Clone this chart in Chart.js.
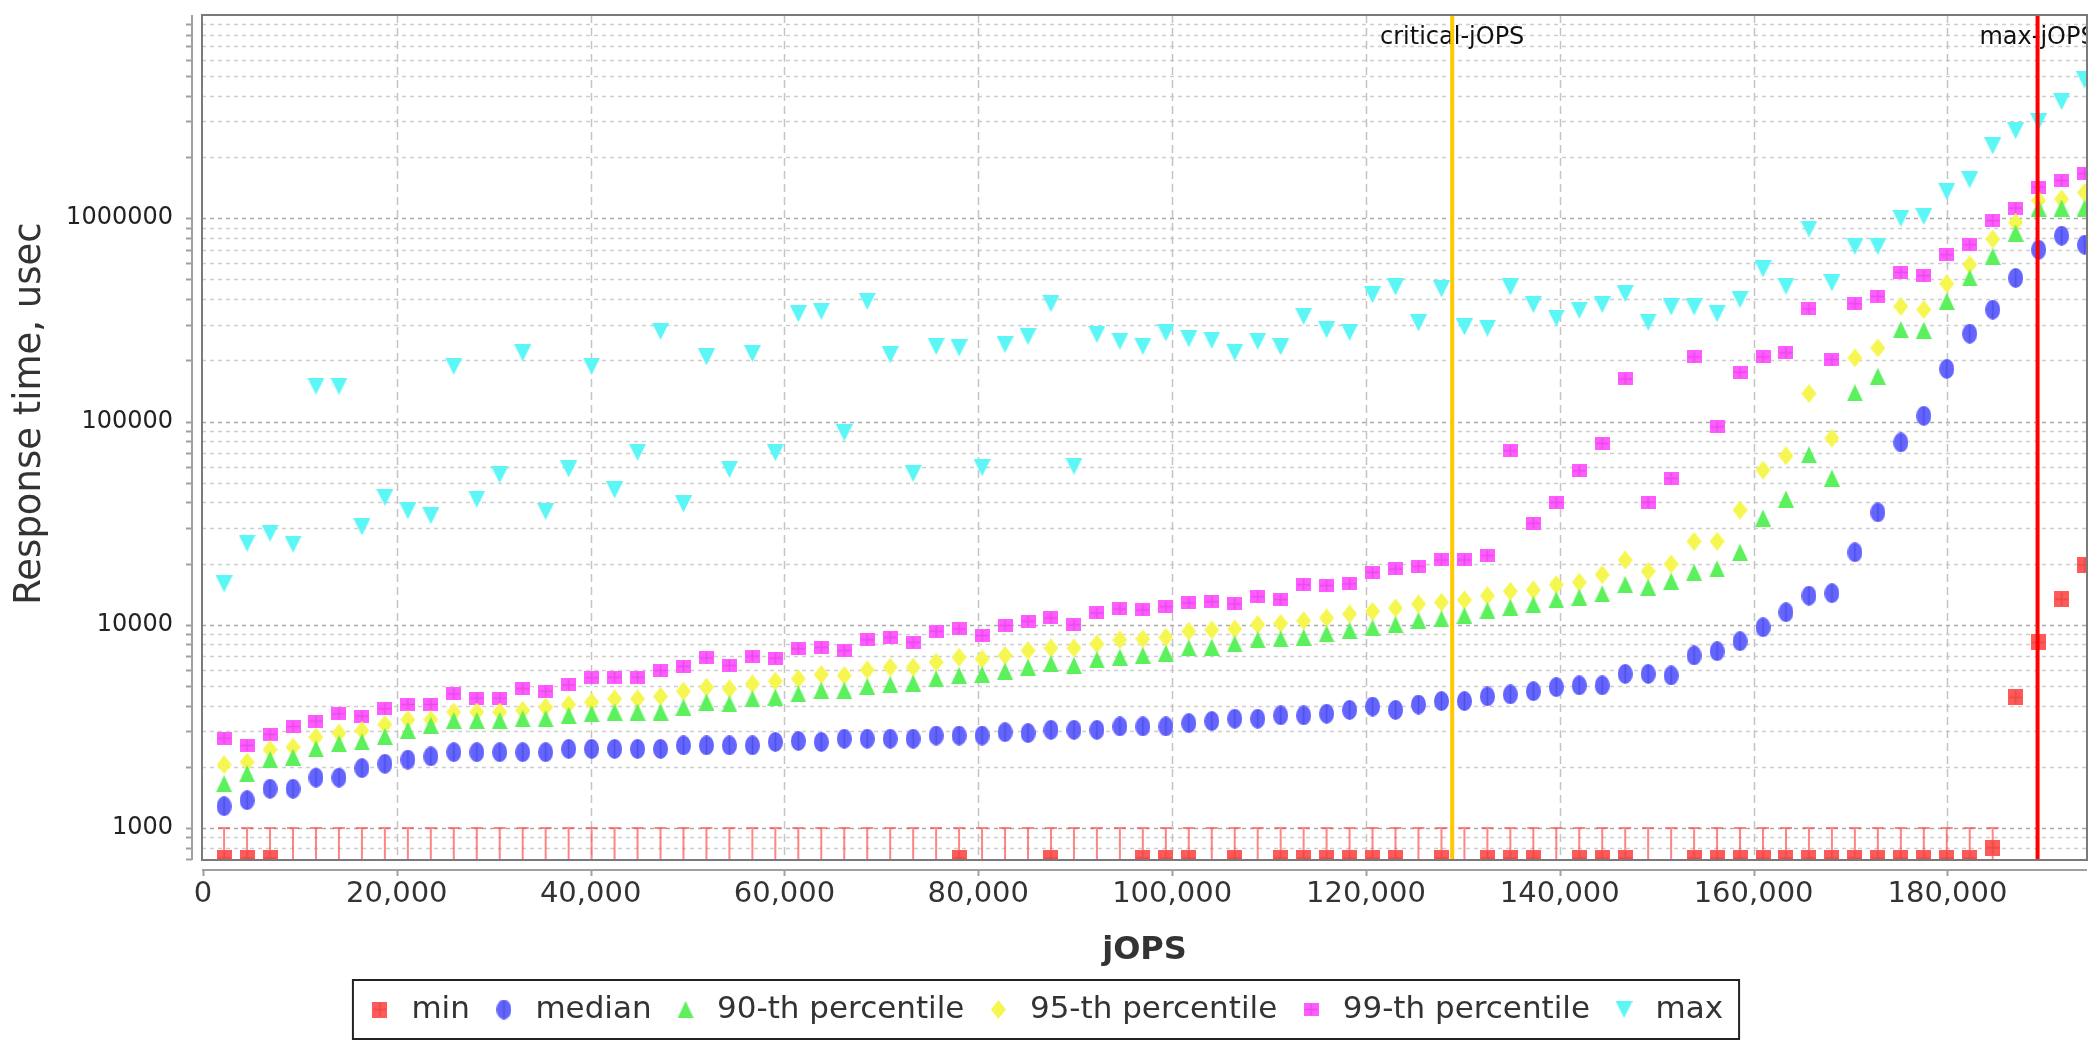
<!DOCTYPE html>
<html>
<head>
<meta charset="utf-8">
<title>Response time vs jOPS</title>
<script src="https://cdn.jsdelivr.net/npm/chart.js@4.4.1/dist/chart.umd.min.js"></script>
<style>
  html, body { margin: 0; padding: 0; background: #ffffff; }
  #wrap { width: 2090px; height: 1043px; }
  canvas { display: block; }
</style>
</head>
<body>
<div id="wrap"><canvas id="rt" width="2090" height="1043"></canvas></div>
<script>
// Injection rate steps (jOPS) of the response-time curve
const jops = [
  2180, 4550, 6920, 9290, 11660, 14030, 16400, 18770, 21140, 23510,
  25880, 28250, 30620, 32990, 35360, 37730, 40100, 42470, 44840, 47210,
  49580, 51950, 54320, 56690, 59060, 61430, 63800, 66170, 68540, 70910,
  73280, 75650, 78020, 80390, 82760, 85130, 87500, 89870, 92240, 94610,
  96980, 99350, 101720, 104090, 106460, 108830, 111200, 113570, 115940, 118310,
  120680, 123050, 125420, 127790, 130160, 132530, 134900, 137270, 139640, 142010,
  144380, 146750, 149120, 151490, 153860, 156230, 158600, 160970, 163340, 165710,
  168080, 170450, 172820, 175190, 177560, 179930, 182300, 184670, 187040, 189410,
  191780, 194150
];

// Response times in microseconds, one value per jOPS step
const minRT = [
  710, 710, 710, 600, 600, 600, 600, 600, 600, 600,
  600, 600, 600, 600, 600, 600, 600, 600, 600, 600,
  600, 600, 600, 600, 600, 600, 600, 600, 600, 600,
  600, 600, 710, 600, 600, 600, 710, 600, 600, 600,
  710, 710, 710, 600, 710, 600, 710, 710, 710, 710,
  710, 710, 600, 710, 600, 710, 710, 710, 600, 710,
  710, 710, 600, 600, 710, 710, 710, 710, 710, 710,
  710, 710, 710, 710, 710, 710, 710, 800, 4390, 8180,
  13350, 19670
];
const medianRT = [
  1280, 1370, 1560, 1560, 1770, 1770, 1970, 2070, 2170, 2250,
  2360, 2360, 2360, 2360, 2360, 2450, 2450, 2450, 2450, 2450,
  2550, 2550, 2550, 2550, 2650, 2680, 2650, 2750, 2750, 2750,
  2750, 2850, 2850, 2850, 2960, 2930, 3040, 3040, 3040, 3160,
  3160, 3160, 3280, 3360, 3450, 3450, 3580, 3580, 3650, 3810,
  3960, 3810, 4050, 4210, 4210, 4440, 4540, 4710, 4930, 5030,
  5030, 5730, 5730, 5630, 7060, 7410, 8300, 9720, 11520, 13910,
  14290, 22720, 35710, 78850, 106600, 181500, 270600, 355000, 508300, 700000,
  820300, 741000
];
const p90RT = [
  1650, 1850, 2170, 2230, 2450, 2600, 2650, 2820, 3020, 3200,
  3380, 3380, 3380, 3450, 3450, 3580, 3650, 3720, 3720, 3720,
  3930, 4160, 4080, 4320, 4400, 4570, 4750, 4750, 4970, 5080,
  5160, 5420, 5630, 5690, 5910, 6180, 6420, 6300, 6720, 6920,
  7060, 7240, 7690, 7750, 8050, 8430, 8520, 8680, 9020, 9360,
  9650, 10020, 10480, 10680, 11090, 11740, 12190, 12560, 13240, 13650,
  14170, 15750, 15290, 16360, 18110, 18810, 22720, 33500, 41520, 68580,
  52660, 138400, 166900, 283000, 281000, 390000, 508300, 649200, 845800, 1122000,
  1122000, 1122000
];
const p95RT = [
  2050, 2110, 2430, 2500, 2800, 2930, 3020, 3230, 3410, 3410,
  3720, 3720, 3720, 3790, 3930, 4050, 4160, 4320, 4320, 4440,
  4710, 4930, 4840, 5120, 5280, 5420, 5690, 5630, 6000, 6180,
  6180, 6540, 6920, 6790, 7060, 7460, 7690, 7690, 8050, 8430,
  8520, 8680, 9290, 9430, 9540, 10020, 10170, 10480, 10800, 11300,
  11650, 12090, 12660, 12900, 13240, 13910, 14610, 14830, 15750, 16170,
  17640, 20830, 18320, 19900, 25720, 25720, 36670, 57650, 67820, 137300,
  82800, 205600, 230000, 368600, 355000, 476600, 590700, 790400, 953600, 1223000,
  1243000, 1339000
];
const p99RT = [
  2770, 2550, 2890, 3160, 3360, 3650, 3550, 3860, 4050, 4050,
  4570, 4350, 4350, 4840, 4710, 5060, 5480, 5520, 5520, 5950,
  6250, 6870, 6300, 7000, 6850, 7610, 7750, 7460, 8430, 8680,
  8200, 9290, 9540, 8850, 9910, 10400, 10800, 9980, 11430, 11960,
  11830, 12280, 12800, 12990, 12660, 13750, 13300, 15750, 15580, 15880,
  18100, 18810, 19390, 20830, 20830, 21870, 71750, 31540, 39990, 57220,
  77960, 162000, 40000, 52470, 208000, 94150, 174700, 208000, 217600, 358000,
  201700, 380000, 412800, 541700, 521700, 661600, 741000, 975400, 1122000, 1423000,
  1534000, 1654000
];
const maxRT = [
  15900, 25200, 28200, 24900, 149000, 149000, 30300, 42300, 36400, 34400,
  187000, 41500, 54700, 217600, 36100, 58400, 187000, 46100, 70500, 278000,
  39300, 208000, 58100, 216000, 70200, 339000, 348000, 88000, 390000, 213000,
  55500, 234000, 230000, 59200, 239000, 262000, 380000, 60200, 268000, 248000,
  234000, 273000, 255000, 251000, 219000, 248000, 233000, 329000, 283000, 275000,
  421000, 459000, 306000, 449000, 292000, 288000, 459000, 376000, 323000, 352000,
  376000, 426000, 308000, 366000, 366000, 339000, 398000, 563000, 463000, 885000,
  481000, 727000, 727000, 998000, 1020000, 1354000, 1545000, 2270000, 2700000, 2990000,
  3750000, 4790000
];

const seriesLabels = ['min', 'median', '90-th percentile', '95-th percentile', '99-th percentile', 'max'];
const seriesValues = [minRT, medianRT, p90RT, p95RT, p99RT, maxRT];

// Axis ticks and titles
const xTickValues = [0, 20000, 40000, 60000, 80000, 100000, 120000, 140000, 160000, 180000];
const yLabelValues = [1000, 10000, 100000, 1000000];
const yGridValues = [
  700, 800, 900,
  1000, 2000, 3000, 4000, 5000, 6000, 7000, 8000, 9000,
  10000, 20000, 30000, 40000, 50000, 60000, 70000, 80000, 90000,
  100000, 200000, 300000, 400000, 500000, 600000, 700000, 800000, 900000,
  1000000, 2000000, 3000000, 4000000, 5000000, 6000000, 7000000, 8000000, 9000000
];
const xTitle = 'jOPS';
const yTitle = 'Response time, usec';

// Reference levels marked across the plot
const levelNames = ['critical-jOPS', 'max-jOPS'];
const levelValues = [128900, 189300];
const levelColors = ['rgb(255,200,0)', 'rgb(255,0,0)'];

// Lowest response time drawn inside the plot for the min series stems
const minStemTop = 1000;

const FONT = "'DejaVu Sans', 'Liberation Sans', sans-serif";
Chart.defaults.font.family = FONT;
Chart.defaults.color = '#333333';

// Marker bitmaps: each series gets its own shape
function makeMarker(shape, w, h, fill, line) {
  const c = document.createElement('canvas');
  c.width = w; c.height = h;
  const g = c.getContext('2d');
  g.fillStyle = fill;
  g.beginPath();
  if (shape === 'rect') {
    g.rect(0, 0, w, h);
  } else if (shape === 'ellipse') {
    g.ellipse(w / 2, h / 2, w / 2, h / 2, 0, 0, Math.PI * 2);
  } else if (shape === 'up') {
    g.moveTo(w / 2, 0); g.lineTo(w, h); g.lineTo(0, h); g.closePath();
  } else if (shape === 'down') {
    g.moveTo(0, 0); g.lineTo(w, 0); g.lineTo(w / 2, h); g.closePath();
  } else if (shape === 'diamond') {
    g.moveTo(w / 2, 0); g.lineTo(w, h / 2); g.lineTo(w / 2, h); g.lineTo(0, h / 2); g.closePath();
  }
  g.fill();
  if (line) {
    g.strokeStyle = line;
    g.lineWidth = 1.5;
    g.beginPath();
    g.moveTo(w / 2, 1); g.lineTo(w / 2, h - 1);
    if (shape === 'rect') { g.moveTo(1, h / 2); g.lineTo(w - 1, h / 2); }
    g.stroke();
  }
  return c;
}

const markers = [
  makeMarker('rect', 15, 16, '#ff5a5a', 'rgba(200,40,40,0.35)'),
  makeMarker('ellipse', 15, 20, '#6464ff', 'rgba(40,40,190,0.35)'),
  makeMarker('up', 16, 17, '#5cf05c', null),
  makeMarker('diamond', 15, 19, '#f6f650', null),
  makeMarker('rect', 15, 13, '#ff5cff', 'rgba(190,40,190,0.35)'),
  makeMarker('down', 17, 17, '#5cf6f6', null)
];

const datasets = seriesLabels.map((name, k) => ({
  label: name,
  data: jops.map((x, i) => ({ x: x, y: seriesValues[k][i] })),
  pointStyle: markers[k],
  pointRadius: 9,
  pointHoverRadius: 9,
  showLine: false,
  clip: 0
}));

function isDecade(v) {
  const l = Math.log10(v);
  return Math.abs(l - Math.round(l)) < 1e-9;
}

// Grid, detached axis lines, min stems, level lines, frame and titles
const plotDecor = {
  id: 'plotDecor',
  beforeDatasetsDraw(chart) {
    const { ctx, chartArea: a, scales: { x, y } } = chart;
    ctx.save();
    // horizontal grid
    ctx.lineWidth = 1.5;
    ctx.setLineDash([4, 4]);
    y.ticks.forEach(t => {
      const py = Math.round(y.getPixelForValue(t.value)) + 0.5;
      if (py <= a.top + 1 || py >= a.bottom - 1) return;
      ctx.strokeStyle = isDecade(t.value) ? '#a9a9a9' : '#cdcdcd';
      ctx.beginPath(); ctx.moveTo(a.left, py); ctx.lineTo(a.right, py); ctx.stroke();
    });
    // vertical grid
    ctx.setLineDash([8, 5]);
    ctx.strokeStyle = '#c4c4c4';
    x.ticks.forEach(t => {
      const px = Math.round(x.getPixelForValue(t.value)) + 0.5;
      if (px <= a.left + 2 || px >= a.right - 1) return;
      ctx.beginPath(); ctx.moveTo(px, a.top); ctx.lineTo(px, a.bottom); ctx.stroke();
    });
    ctx.setLineDash([]);

    // detached axis lines with tick marks
    ctx.strokeStyle = '#a0a0a0';
    ctx.lineWidth = 2;
    const axX = a.left - 10;
    ctx.beginPath(); ctx.moveTo(axX, a.top); ctx.lineTo(axX, a.bottom); ctx.stroke();
    y.ticks.forEach(t => {
      const py = Math.round(y.getPixelForValue(t.value)) + 0.5;
      if (py < a.top || py > a.bottom) return;
      ctx.beginPath(); ctx.moveTo(axX - 6, py); ctx.lineTo(axX, py); ctx.stroke();
    });
    const axY = a.bottom + 10;
    ctx.beginPath(); ctx.moveTo(a.left, axY); ctx.lineTo(a.right, axY); ctx.stroke();
    x.ticks.forEach(t => {
      const px = Math.round(x.getPixelForValue(t.value)) + 0.5;
      ctx.beginPath(); ctx.moveTo(px, axY); ctx.lineTo(px, axY + 6); ctx.stroke();
    });

    // stems of the min series below the plotted range
    ctx.beginPath();
    ctx.rect(a.left, a.top, a.right - a.left, a.bottom - a.top);
    ctx.clip();
    ctx.strokeStyle = 'rgba(255,80,80,0.7)';
    ctx.lineWidth = 2;
    const capY = y.getPixelForValue(minStemTop);
    minRT.forEach((v, i) => {
      if (v >= minStemTop) return;
      const px = x.getPixelForValue(jops[i]);
      ctx.beginPath();
      ctx.moveTo(px - 6, capY); ctx.lineTo(px + 6, capY);
      ctx.moveTo(px, capY); ctx.lineTo(px, a.bottom);
      ctx.stroke();
    });
    ctx.restore();
  },
  afterDatasetsDraw(chart) {
    const { ctx, chartArea: a, scales: { x } } = chart;
    ctx.save();
    ctx.beginPath();
    ctx.rect(a.left, a.top, a.right - a.left, a.bottom - a.top);
    ctx.clip();
    ctx.font = '24px ' + FONT;
    ctx.fillStyle = '#111111';
    ctx.textAlign = 'center';
    ctx.textBaseline = 'middle';
    levelValues.forEach((v, k) => {
      const px = x.getPixelForValue(v);
      ctx.fillText(levelNames[k], px, a.top + 23);
    });
    ctx.lineWidth = 4;
    levelValues.forEach((v, k) => {
      const px = x.getPixelForValue(v);
      ctx.strokeStyle = levelColors[k];
      ctx.beginPath(); ctx.moveTo(px, a.top); ctx.lineTo(px, a.bottom); ctx.stroke();
    });
    ctx.restore();

    // plot frame
    ctx.save();
    ctx.strokeStyle = '#7a7a7a';
    ctx.lineWidth = 2;
    ctx.strokeRect(a.left, a.top, a.right - a.left, a.bottom - a.top);
    ctx.restore();
  },
  afterDraw(chart) {
    const { ctx, chartArea: a } = chart;
    // vertical axis title
    ctx.save();
    ctx.translate(30, (a.top + a.bottom) / 2 - 24);
    ctx.rotate(-Math.PI / 2);
    ctx.font = '37px ' + FONT;
    ctx.fillStyle = '#333333';
    ctx.textAlign = 'center';
    ctx.textBaseline = 'middle';
    ctx.fillText(yTitle, 0, 0);
    ctx.restore();

    // legend frame
    const lg = chart.legend;
    if (!lg || !lg.legendHitBoxes || !lg.legendHitBoxes.length) return;
    const hb = lg.legendHitBoxes;
    const first = hb[0], last = hb[hb.length - 1];
    const cy = first.top + first.height / 2;
    ctx.save();
    ctx.strokeStyle = '#222222';
    ctx.lineWidth = 2;
    ctx.strokeRect(first.left - 11, cy - 29.5, (last.left + last.width + 16) - (first.left - 11), 59);
    ctx.restore();
  }
};

new Chart(document.getElementById('rt').getContext('2d'), {
  type: 'scatter',
  data: { datasets: datasets },
  options: {
    responsive: false,
    animation: false,
    devicePixelRatio: 1,
    layout: { autoPadding: false, padding: { top: 15, right: 3, left: 0, bottom: 8 } },
    plugins: {
      tooltip: { enabled: false },
      legend: {
        position: 'bottom',
        labels: {
          usePointStyle: true,
          pointStyleWidth: 32,
          padding: 18,
          color: '#333333',
          font: { family: FONT, size: 31 }
        }
      }
    },
    scales: {
      x: {
        type: 'linear',
        min: -100,
        max: 194400,
        afterBuildTicks: s => { s.ticks = xTickValues.map(v => ({ value: v })); },
        afterFit: s => { s.height = 116; s.paddingLeft = 0; s.paddingRight = 0; },
        grid: { display: false, drawTicks: false },
        border: { display: false },
        ticks: {
          autoSkip: false, maxRotation: 0, padding: 17,
          color: '#333333',
          font: { family: FONT, size: 29 },
          callback: v => Number(v).toLocaleString('en-US')
        },
        title: {
          display: true, text: xTitle, color: '#333333',
          font: { family: FONT, size: 32, weight: 'bold' },
          padding: { top: 0, bottom: 6 }
        }
      },
      y: {
        type: 'logarithmic',
        min: 696,
        max: 10000000,
        afterBuildTicks: s => { s.ticks = yGridValues.map(v => ({ value: v, major: isDecade(v) })); },
        afterFit: s => { s.width = 202; s.paddingTop = 0; s.paddingBottom = 0; },
        grid: { display: false, drawTicks: false },
        border: { display: false },
        ticks: {
          autoSkip: false, padding: 29,
          color: '#222222',
          font: { family: FONT, size: 24 },
          callback: v => (yLabelValues.indexOf(v) >= 0 ? String(v) : '')
        },
        title: { display: false }
      }
    }
  },
  plugins: [plotDecor]
});
</script>
</body>
</html>
